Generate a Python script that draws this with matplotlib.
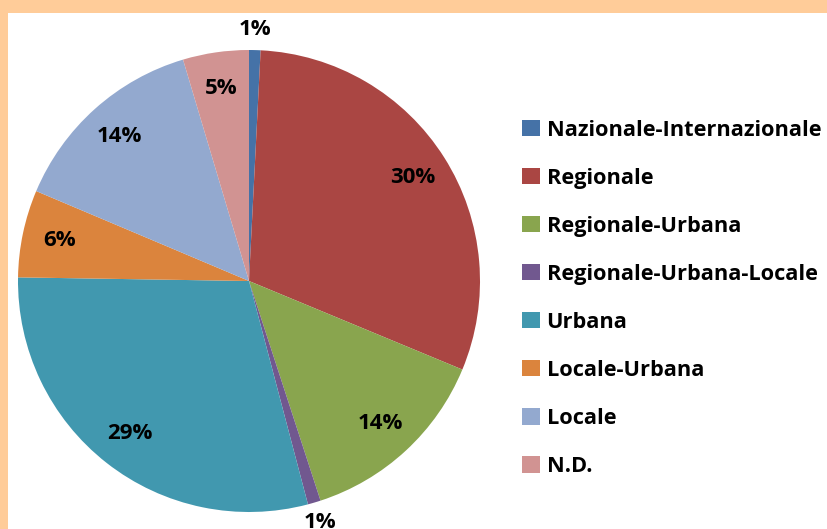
import matplotlib
matplotlib.use("Agg")
import matplotlib.pyplot as plt
from matplotlib.patches import Rectangle, Patch
import numpy as np

categories = ["Nazionale-Internazionale", "Regionale", "Regionale-Urbana",
              "Regionale-Urbana-Locale", "Urbana", "Locale-Urbana", "Locale", "N.D."]
values = [0.8, 30.4, 13.7, 0.9, 29.3, 6.1, 14.0, 4.6]
colors = ["#4572A7", "#AA4643", "#89A54E", "#71588F", "#4198AF", "#DB843D", "#93A9CF", "#D19392"]

plt.rcParams['font.family'] = ['Open Sans', 'DejaVu Sans']
W, H = 827, 529
fig = plt.figure(figsize=(W/100, H/100), dpi=100)
fig.patch.set_facecolor("#FFCC99")
fig.patches.append(Rectangle((8/W, 0), 1 - 8/W, 1 - 13/H, transform=fig.transFigure,
                             facecolor="white", edgecolor="none", zorder=-10))

cx, cy, r = 249, 281, 231
ax = fig.add_axes([(cx - r)/W, (H - cy - r)/H, 2*r/W, 2*r/H])
ax.set_axis_off()
wedges, _ = ax.pie(values, colors=colors, startangle=90, counterclock=False,
                   radius=1, wedgeprops=dict(linewidth=0))
ax.set_xlim(-1, 1)
ax.set_ylim(-1, 1)

for w, v in zip(wedges, values):
    th = np.deg2rad((w.theta1 + w.theta2) / 2)
    rr = 1.09 if v < 2 else 0.84
    ax.text(rr*np.cos(th), rr*np.sin(th), f"{v:.0f}%", ha="center", va="center",
            fontsize=16, fontweight="bold", color="black", clip_on=False)

handles = [Patch(facecolor=c, edgecolor="none") for c in colors]
leg = fig.legend(handles, categories, loc="upper left", bbox_to_anchor=(515/W, 1 - 113/H),
                 frameon=False, prop=dict(size=15.7, weight="bold"),
                 handlelength=0.85, handleheight=0.8, handletextpad=0.3,
                 labelspacing=1.24, borderaxespad=0, borderpad=0.3)

fig.savefig("out.png", dpi=100, facecolor=fig.get_facecolor())
